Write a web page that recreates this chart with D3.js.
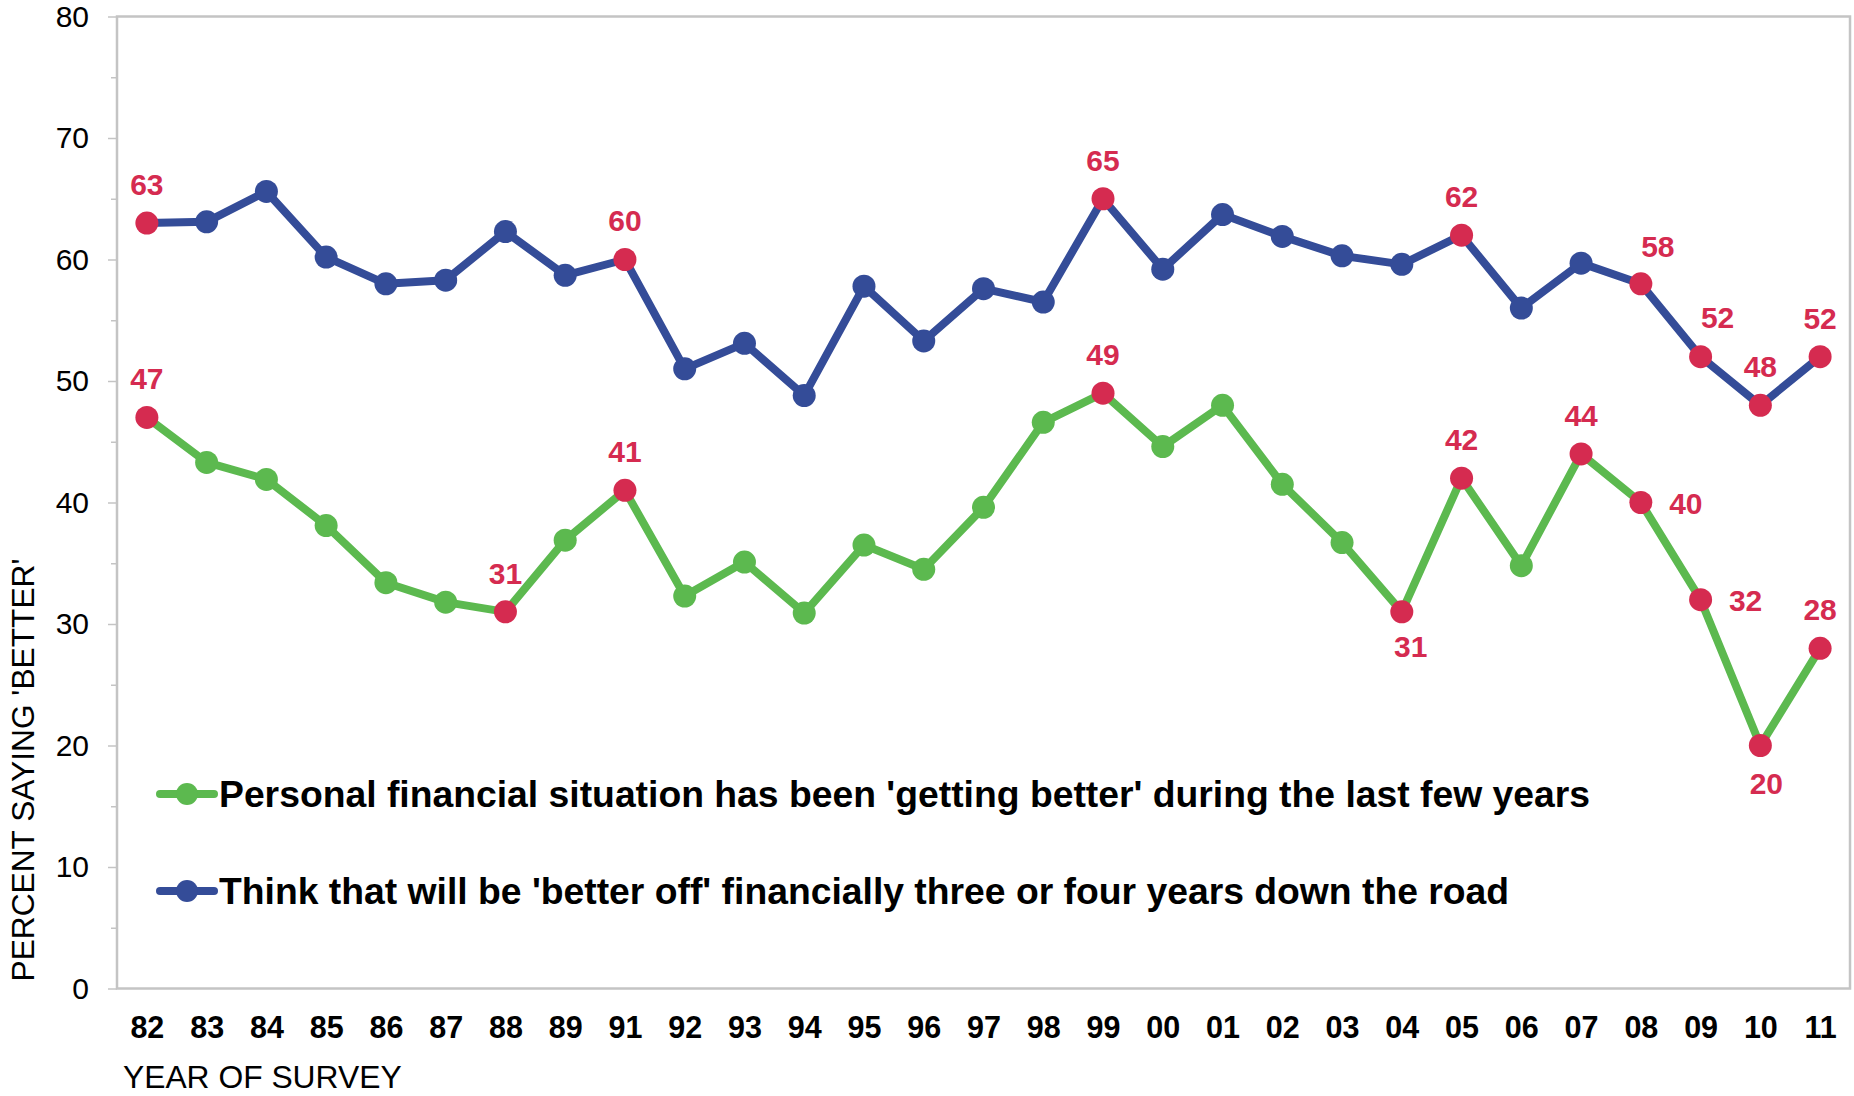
<!DOCTYPE html>
<html>
<head>
<meta charset="utf-8">
<script src="https://cdn.jsdelivr.net/npm/d3@7/dist/d3.min.js"></script>
<style>
  html, body { margin: 0; padding: 0; background: #ffffff; }
  svg { display: block; font-family: "Liberation Sans", Arial, sans-serif; }
</style>
</head>
<body>
<svg id="chart" width="1854" height="1096"></svg>
<script>
// Survey years (two-digit labels; no survey in 1990)
const years = ["82","83","84","85","86","87","88","89","91","92","93","94","95","96","97",
               "98","99","00","01","02","03","04","05","06","07","08","09","10","11"];

// Percent who think they will be 'better off' three or four years down the road
const futureBetter = [63, 63.1, 65.6, 60.2, 58.0, 58.3, 62.3, 58.7, 60, 51.0, 53.1, 48.8, 57.8, 53.3, 57.6,
                      56.5, 65, 59.2, 63.7, 61.9, 60.3, 59.6, 62, 56.0, 59.7, 58, 52, 48, 52];

// Percent whose personal financial situation has been 'getting better'
const pastBetter = [47, 43.3, 41.9, 38.1, 33.4, 31.8, 31, 36.9, 41, 32.3, 35.1, 30.9, 36.5, 34.5, 39.6,
                    46.6, 49, 44.6, 48.0, 41.5, 36.7, 31, 42, 34.8, 44, 40, 32, 20, 28];

// Years whose values are called out with a label
const futureLabelled = ["82","91","99","05","08","09","10","11"];
const pastLabelled = ["82","88","91","99","04","05","07","08","09","10","11"];

const seriesNames = [
  "Personal financial situation has been 'getting better' during the last few years",
  "Think that will be 'better off' financially three or four years down the road"
];

const yMajorTicks = [0, 10, 20, 30, 40, 50, 60, 70, 80];
const yMinorTicks = [5, 15, 25, 35, 45, 55, 65, 75];

const COLORS = { future: "#344c98", past: "#5cb94f", callout: "#d52b50", frame: "#c4c4c4" };

const svg = d3.select("#chart");
const plot = { left: 117, right: 1850, top: 16.5, bottom: 988.5 };

const x = d3.scalePoint().domain(years).range([plot.left, plot.right]).padding(0.5);
const y = d3.scaleLinear().domain([0, 80]).range([plot.bottom, plot.top]);

// Plot frame
svg.append("rect")
  .attr("x", plot.left).attr("y", plot.top)
  .attr("width", plot.right - plot.left).attr("height", plot.bottom - plot.top)
  .attr("fill", "none").attr("stroke", COLORS.frame).attr("stroke-width", 2.5);

// Y axis: major ticks with labels, minor ticks without
const yAxis = svg.append("g").attr("transform", `translate(${plot.left},0)`)
  .call(d3.axisLeft(y).tickValues(yMajorTicks).tickSize(9).tickPadding(19).tickFormat(d3.format("d")));
yAxis.select(".domain").remove();
yAxis.selectAll(".tick line").attr("stroke", COLORS.frame).attr("stroke-width", 1.5);
yAxis.selectAll(".tick text").attr("font-size", 30).attr("fill", "#000");

const yMinor = svg.append("g").attr("transform", `translate(${plot.left},0)`)
  .call(d3.axisLeft(y).tickValues(yMinorTicks).tickSize(6).tickFormat(""));
yMinor.select(".domain").remove();
yMinor.selectAll(".tick line").attr("stroke", COLORS.frame).attr("stroke-width", 1.5);

// X axis: bold year labels below the frame
const xAxis = svg.append("g").attr("transform", `translate(0,${plot.bottom})`)
  .call(d3.axisBottom(x).tickSize(0).tickPadding(28));
xAxis.select(".domain").remove();
xAxis.selectAll(".tick text").attr("font-size", 30.5).attr("font-weight", "bold").attr("fill", "#000");

// Axis titles
svg.append("text")
  .attr("x", 123).attr("y", 1088)
  .attr("font-size", 31.8).attr("fill", "#000")
  .text("YEAR OF SURVEY");

svg.append("text")
  .attr("transform", "translate(34,770) rotate(-90)")
  .attr("text-anchor", "middle")
  .attr("font-size", 31.7).attr("fill", "#000")
  .text("PERCENT SAYING 'BETTER'");

// Series lines and markers
const line = d3.line().x(d => x(d.year)).y(d => y(d.value));

function drawSeries(values, color, labelled) {
  const pts = years.map((yr, i) => ({ year: yr, value: values[i], hot: labelled.includes(yr) }));
  svg.append("path").datum(pts)
    .attr("d", line).attr("fill", "none")
    .attr("stroke", color).attr("stroke-width", 8).attr("stroke-linejoin", "round");
  svg.append("g").selectAll("circle").data(pts).join("circle")
    .attr("cx", d => x(d.year)).attr("cy", d => y(d.value)).attr("r", 11.5)
    .attr("fill", d => d.hot ? COLORS.callout : color);
  return pts.filter(d => d.hot);
}

const futurePts = drawSeries(futureBetter, COLORS.future, futureLabelled);
const pastPts = drawSeries(pastBetter, COLORS.past, pastLabelled);

// Callout label offsets (dx, dy from the marker centre to the label centre)
const futureOffsets = { "08": [17, -38], "09": [17, -40] };
const pastOffsets = { "04": [9, 34], "08": [45, 1], "09": [45, 0], "10": [6, 38] };

function drawCallouts(pts, offsets) {
  svg.append("g").selectAll("text").data(pts).join("text")
    .attr("x", d => x(d.year) + (offsets[d.year] ? offsets[d.year][0] : 0))
    .attr("y", d => y(d.value) + (offsets[d.year] ? offsets[d.year][1] : -39))
    .attr("dy", "0.36em")
    .attr("text-anchor", "middle")
    .attr("font-size", 30).attr("font-weight", "bold")
    .attr("fill", COLORS.callout)
    .text(d => Math.round(d.value));
}
drawCallouts(futurePts, futureOffsets);
drawCallouts(pastPts, pastOffsets);

// Legend
const legend = svg.append("g");
const legendRows = [
  { name: seriesNames[0], color: COLORS.past, cy: 794 },
  { name: seriesNames[1], color: COLORS.future, cy: 891 }
];
legendRows.forEach(r => {
  legend.append("line")
    .attr("x1", 160).attr("x2", 214).attr("y1", r.cy).attr("y2", r.cy)
    .attr("stroke", r.color).attr("stroke-width", 8).attr("stroke-linecap", "round");
  legend.append("circle").attr("cx", 187).attr("cy", r.cy).attr("r", 11).attr("fill", r.color);
  legend.append("text")
    .attr("x", 219).attr("y", r.cy).attr("dy", "0.35em")
    .attr("font-size", 37.3).attr("font-weight", "bold").attr("fill", "#000")
    .text(r.name);
});
</script>
</body>
</html>
